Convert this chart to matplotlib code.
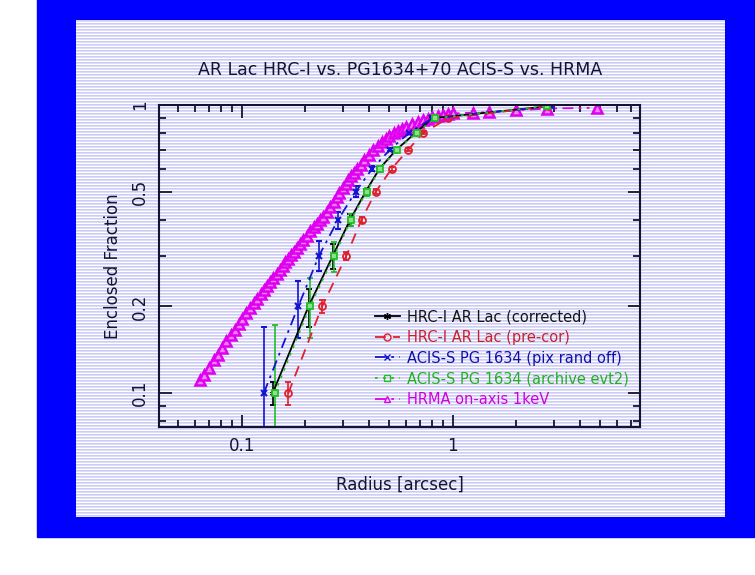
import numpy as np
import matplotlib
matplotlib.use("Agg")
import matplotlib.pyplot as plt
from matplotlib.patches import Rectangle
from matplotlib.lines import Line2D
from matplotlib.ticker import FixedLocator, NullFormatter

# Fracciones encerradas (niveles) y radios
frac_levels = [0.1, 0.2, 0.3, 0.4, 0.5, 0.6, 0.7, 0.8, 0.9, 0.99]

r_hrc_corr = [0.140, 0.207, 0.270, 0.326, 0.386, 0.448, 0.540, 0.665, 0.80, 2.85]
err_hrc_corr = [0.009, 0.030, 0.030, 0.020, 0.012, 0.010, 0.010, 0.008, 0.006, 0.004]

r_hrc_pre = [0.166, 0.240, 0.313, 0.369, 0.431, 0.512, 0.614, 0.723, 0.95, 2.83]
err_hrc_pre = [0.009, 0.010, 0.010, 0.010, 0.010, 0.008, 0.008, 0.008, 0.006, 0.004]

r_acis_rand = [0.127, 0.185, 0.232, 0.286, 0.346, 0.414, 0.503, 0.62, 0.80, 2.92]
err_acis_rand_lo = [0.05, 0.045, 0.034, 0.028, 0.020, 0.012, 0.010, 0.008, 0.006, 0.004]
err_acis_rand_hi = [0.069, 0.046, 0.036, 0.026, 0.025, 0.012, 0.010, 0.008, 0.006, 0.004]

r_acis_evt2 = [0.143, 0.210, 0.274, 0.329, 0.390, 0.451, 0.544, 0.673, 0.82, 2.80]
err_acis_evt2_lo = [0.05, 0.044, 0.037, 0.020, 0.015, 0.012, 0.010, 0.008, 0.006, 0.004]
err_acis_evt2_hi = [0.073, 0.050, 0.034, 0.020, 0.015, 0.012, 0.010, 0.008, 0.006, 0.004]

r_hrma = [0.0633, 0.0665, 0.0700, 0.0735, 0.0770, 0.0805, 0.0845, 0.0885, 0.0925,
          0.0965, 0.1005, 0.1050, 0.1095, 0.1140, 0.1185, 0.1230, 0.1275, 0.1320,
          0.1365, 0.1410, 0.1460, 0.1510, 0.1560, 0.1610, 0.1660, 0.1710, 0.1760,
          0.1820, 0.1880, 0.1950, 0.2030, 0.2110, 0.2190, 0.2260, 0.2340, 0.2430,
          0.2520, 0.2620, 0.2720, 0.2810, 0.2900, 0.3000, 0.3100, 0.3200, 0.3300,
          0.3400, 0.3500, 0.3650, 0.3800, 0.4000, 0.4200, 0.4400, 0.4600, 0.4800,
          0.5000, 0.5250, 0.5500, 0.5750, 0.6000, 0.6400, 0.6800, 0.7200, 0.7600,
          0.8000, 0.8500, 0.9000, 0.9500, 1.0000, 1.2400, 1.4900, 1.9900, 2.8000,
          4.8000]
f_hrma = [0.111, 0.116, 0.122, 0.130, 0.136, 0.143, 0.152, 0.159, 0.166,
          0.174, 0.181, 0.189, 0.197, 0.205, 0.213, 0.220, 0.228, 0.235,
          0.243, 0.250, 0.259, 0.268, 0.276, 0.285, 0.293, 0.302, 0.310,
          0.320, 0.330, 0.340, 0.352, 0.364, 0.376, 0.386, 0.398, 0.410,
          0.424, 0.442, 0.460, 0.478, 0.496, 0.515, 0.533, 0.550, 0.567,
          0.583, 0.598, 0.620, 0.642, 0.670, 0.697, 0.722, 0.744, 0.763,
          0.780, 0.798, 0.815, 0.828, 0.840, 0.857, 0.872, 0.885, 0.895,
          0.905, 0.915, 0.925, 0.930, 0.935, 0.940, 0.945, 0.958, 0.972,
          0.978]

labels = ["HRC-I AR Lac (corrected)", "HRC-I AR Lac (pre-cor)",
          "ACIS-S PG 1634 (pix rand off)", "ACIS-S PG 1634 (archive evt2)",
          "HRMA on-axis 1keV"]
colors = ["black", "#e0202a", "#1414d0", "#22c022", "#e000f0"]
text_colors = ["#141414", "#c8202a", "#1010a8", "#20b020", "#d000e0"]
styles = ["-", (0, (6, 4)), (0, (6, 3, 1.5, 3)), (0, (1.5, 3)), (0, (6, 3, 1.5, 3, 1.5, 3))]
markers = [(6, 2, 0), "o", "x", "s", "^"]

# Figura con el marco azul y el panel rayado
fig = plt.figure(figsize=(7.55, 5.75), dpi=100)
fig.patches.append(Rectangle((37 / 755, 38 / 575), 1, 1, transform=fig.transFigure,
                             color="#0000ff", zorder=-10))
bg = fig.add_axes([76 / 755, 58 / 575, 649 / 755, 497 / 575], zorder=-5)
stripes = np.ones((497, 1, 3))
stripes[0::3] = [0.80, 0.80, 0.96]
stripes[1::3] = [0.87, 0.87, 0.98]
bg.imshow(stripes, aspect="auto", interpolation="nearest")
bg.axis("off")

ax = fig.add_axes([159 / 755, 148 / 575, 481 / 755, 322 / 575])
ax.set_facecolor("none")

ax.errorbar(r_hrc_corr, frac_levels, yerr=err_hrc_corr, color=colors[0], lw=1.3,
            ls=styles[0], marker=markers[0], ms=4.5, mew=1.3, capsize=2.5, elinewidth=1.2)
ax.errorbar(r_hrc_pre, frac_levels, yerr=err_hrc_pre, color=colors[1], lw=1.3,
            ls=styles[1], marker=markers[1], mfc="none", ms=5, mew=1.3,
            capsize=2.5, elinewidth=1.2)
ax.errorbar(r_acis_rand, frac_levels, yerr=[err_acis_rand_lo, err_acis_rand_hi],
            color=colors[2], lw=1.3, ls=styles[2], marker=markers[2], ms=5,
            mew=1.5, capsize=2.5, elinewidth=1.2)
ax.errorbar(r_acis_evt2, frac_levels, yerr=[err_acis_evt2_lo, err_acis_evt2_hi],
            color=colors[3], lw=1.3, ls=styles[3], marker=markers[3], mfc="#8ede8e", ms=5,
            mew=1.3, capsize=2.5, elinewidth=1.2)
ax.plot(r_hrma, f_hrma, color=colors[4], lw=1.3, ls=styles[4],
        marker=markers[4], mfc="#f080f8", ms=6.5, mew=1.8)

ax.set_xscale("log")
ax.set_yscale("log")
ax.set_xlim(0.0405, 7.7)
ax.set_ylim(0.0763, 1.0)

ax.xaxis.set_major_locator(FixedLocator([0.1, 1]))
ax.xaxis.set_minor_locator(FixedLocator([0.05, 0.06, 0.07, 0.08, 0.09, 0.2, 0.3, 0.4,
                                         0.5, 0.6, 0.7, 0.8, 0.9, 2, 3, 4, 5, 6, 7]))
ax.set_xticklabels(["0.1", "1"])
ax.xaxis.set_minor_formatter(NullFormatter())
ax.yaxis.set_major_locator(FixedLocator([0.1, 0.2, 0.5, 1]))
ax.yaxis.set_minor_locator(FixedLocator([0.08, 0.09, 0.3, 0.4, 0.6, 0.7, 0.8, 0.9]))
ax.set_yticklabels(["0.1", "0.2", "0.5", "1"], rotation=90, va="center")
ax.yaxis.set_minor_formatter(NullFormatter())
ax.tick_params(which="both", direction="in", top=True, right=True, width=1.3,
               labelsize=12, color="#141432", labelcolor="#141432")
ax.tick_params(which="major", length=9, pad=7)
ax.tick_params(which="minor", length=5)
for s in ax.spines.values():
    s.set_linewidth(1.5)
    s.set_color("#141432")

ax.set_xlabel("Radius [arcsec]", fontsize=12, color="#141432", labelpad=15)
ax.set_ylabel("Enclosed Fraction", fontsize=12, color="#141432", labelpad=7)
fig.text(400 / 755, 1 - 70 / 575, "AR Lac HRC-I vs. PG1634+70 ACIS-S vs. HRMA",
         fontsize=12.5, color="#141432", ha="center", va="center")

handles = [Line2D([], [], color=c, ls=st, lw=1.3, marker=m, ms=5, mfc="none" if i in (1, 3, 4) else c)
           for i, (c, st, m) in enumerate(zip(colors, styles, markers))]
leg = ax.legend(handles, labels, loc="center left", bbox_to_anchor=(0.449, 0.214),
                frameon=False, fontsize=10.5, handlelength=1.7, handletextpad=0.5,
                labelspacing=0.38, borderpad=0, borderaxespad=0,
                labelcolor=text_colors)

fig.savefig("out.png", dpi=100)
